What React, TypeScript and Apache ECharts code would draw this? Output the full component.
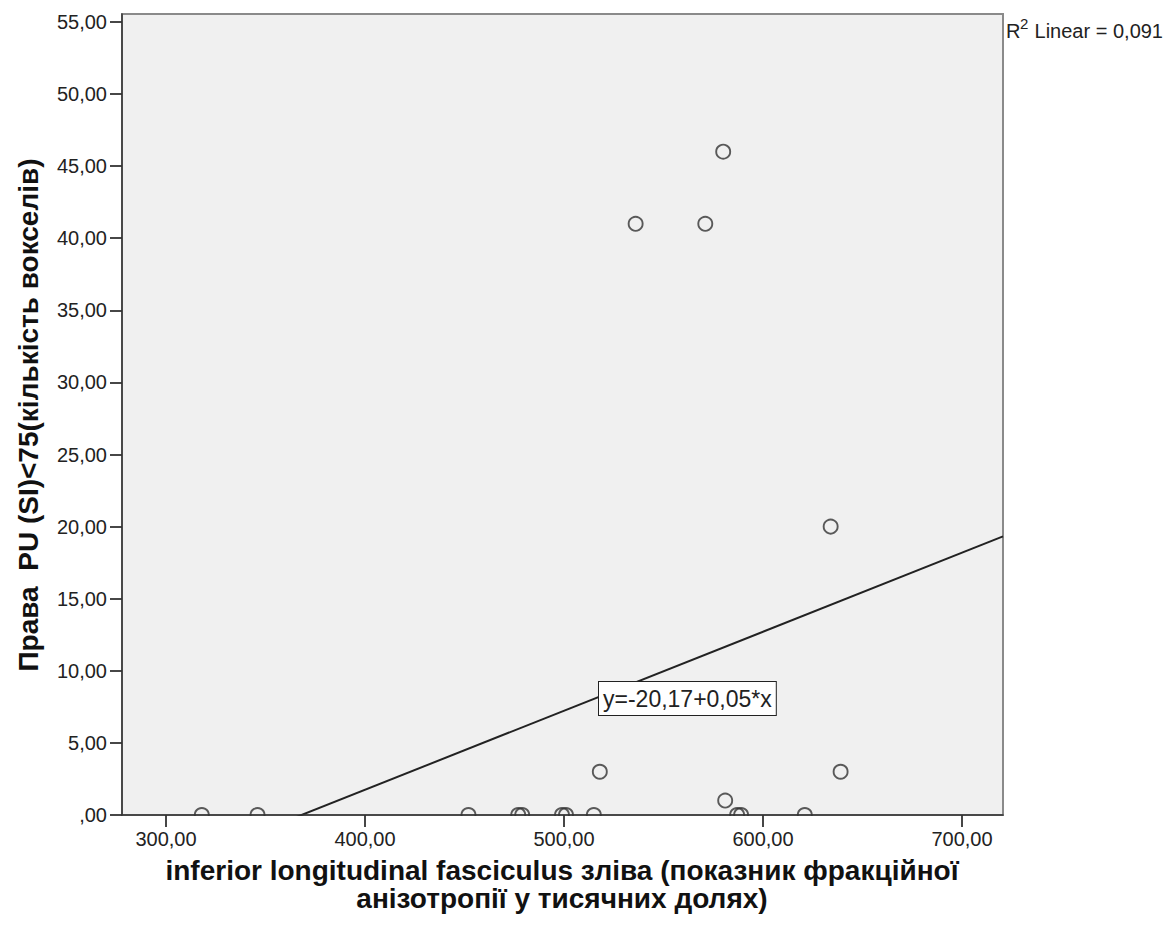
import React, { useEffect, useRef } from "react";
import * as echarts from "echarts";

// Data
const xValues = [318, 346, 452, 477, 479, 499, 501, 515, 518, 536, 571, 580, 581, 587, 589, 621, 634, 639];
const yValues = [0, 0, 0, 0, 0, 0, 0, 0, 3, 41, 41, 46, 1, 0, 0, 0, 20, 3];

// Tick values
const xTicks = [300, 400, 500, 600, 700];
const yTicks = [0, 5, 10, 15, 20, 25, 30, 35, 40, 45, 50, 55];

// Axis extents
const xMin = 277.9;
const xMax = 720.6;
const yMin = 0;
const yMax = 55.55;

// Fit line coefficients (as drawn)
const fitIntercept = -20.17;
const fitSlope = 0.0548;

const xTitle1 = "inferior longitudinal fasciculus зліва (показник фракційної";
const xTitle2 = "анізотропії у тисячних долях)";
const yTitle = "Права  PU (SI)<75(кількість вокселів)";
const eqLabel = "y=-20,17+0,05*x";

const FONT = "'Liberation Sans', Arial, sans-serif";

const fmt = (v: number) => {
  if (v === 0) return ",00";
  return v.toFixed(2).replace(".", ",");
};

export default function App() {
  const ref = useRef<HTMLDivElement>(null);

  useEffect(() => {
    if (!ref.current) return;
    const chart = echarts.init(ref.current, null, { renderer: "svg" });

    const points = xValues.map((x, i) => [x, yValues[i]]);
    const fitData = [xMin, xMax].map((x) => [x, fitIntercept + fitSlope * x]);

    const gridLeft = 122;
    const gridRight = 1003;
    const gridTop = 14;
    const gridBottomPx = 815;

    chart.setOption({
      animation: false,
      backgroundColor: "#ffffff",
      textStyle: { fontFamily: FONT },
      grid: {
        left: gridLeft,
        right: 1165 - gridRight,
        top: gridTop,
        bottom: 928 - gridBottomPx,
        show: true,
        backgroundColor: "#f0f0f0",
        borderColor: "#8a8a8a",
        borderWidth: 2,
      },
      xAxis: {
        type: "value",
        min: xMin,
        max: xMax,
        z: 10,
        splitLine: { show: false },
        axisLine: { show: true, onZero: false, lineStyle: { color: "#333", width: 1.5 } },
        axisTick: {
          show: true,
          length: 12,
          customValues: xTicks,
          lineStyle: { color: "#333", width: 1.8 },
        },
        axisLabel: {
          customValues: xTicks,
          formatter: (v: number) => fmt(v),
          color: "#222",
          fontSize: 20,
          fontFamily: FONT,
          margin: 14,
        },
      },
      yAxis: {
        type: "value",
        min: yMin,
        max: yMax,
        z: 10,
        splitLine: { show: false },
        axisLine: { show: true, onZero: false, lineStyle: { color: "#333", width: 1.5 } },
        axisTick: {
          show: true,
          length: 12,
          customValues: yTicks,
          lineStyle: { color: "#333", width: 1.8 },
        },
        axisLabel: {
          customValues: yTicks,
          formatter: (v: number) => fmt(v),
          color: "#222",
          fontSize: 20,
          fontFamily: FONT,
          margin: 15,
        },
      },
      series: [
        {
          type: "line",
          data: fitData,
          showSymbol: false,
          symbol: "none",
          clip: true,
          z: 2,
          lineStyle: { color: "#222", width: 2 },
          silent: true,
        },
        {
          type: "scatter",
          data: points,
          symbol: "circle",
          symbolSize: 14,
          z: 3,
          clip: false,
          itemStyle: {
            color: "rgba(0,0,0,0)",
            borderColor: "#333",
            borderWidth: 1.9,
          },
        },
      ],
      graphic: [
        {
          type: "rect",
          z: 5,
          silent: true,
          shape: { x: gridLeft + 1, y: gridBottomPx + 1, width: gridRight - gridLeft + 10, height: 22 },
          style: { fill: "#ffffff" },
        },
        {
          type: "text",
          z: 20,
          left: 598,
          top: 681,
          style: {
            text: eqLabel,
            font: `23px ${FONT}`,
            fill: "#222",
            backgroundColor: "#ffffff",
            borderColor: "#222",
            borderWidth: 1,
            padding: [5, 4, 5, 4],
          },
        },
        {
          type: "text",
          z: 20,
          x: 1006,
          y: 21,
          style: { text: "R", font: `20px ${FONT}`, fill: "#222" },
        },
        {
          type: "text",
          z: 20,
          x: 1020,
          y: 16,
          style: { text: "2", font: `15px ${FONT}`, fill: "#222" },
        },
        {
          type: "text",
          z: 20,
          x: 1029,
          y: 21,
          style: { text: " Linear = 0,091", font: `20px ${FONT}`, fill: "#222" },
        },
        {
          type: "text",
          z: 20,
          x: 562,
          y: 884,
          style: {
            text: xTitle1 + "\n" + xTitle2,
            font: `bold 28px ${FONT}`,
            lineHeight: 28,
            fill: "#111",
            align: "center",
            verticalAlign: "middle",
          },
        },
        {
          type: "text",
          z: 20,
          x: 28,
          y: 415,
          rotation: Math.PI / 2,
          style: {
            text: yTitle,
            font: `bold 28px ${FONT}`,
            fill: "#111",
            align: "center",
            verticalAlign: "middle",
          },
        },
      ],
    });

    return () => chart.dispose();
  }, []);

  return (
    <div
      ref={ref}
      style={{ position: "absolute", left: 0, top: 0, width: 1165, height: 928 }}
    />
  );
}
